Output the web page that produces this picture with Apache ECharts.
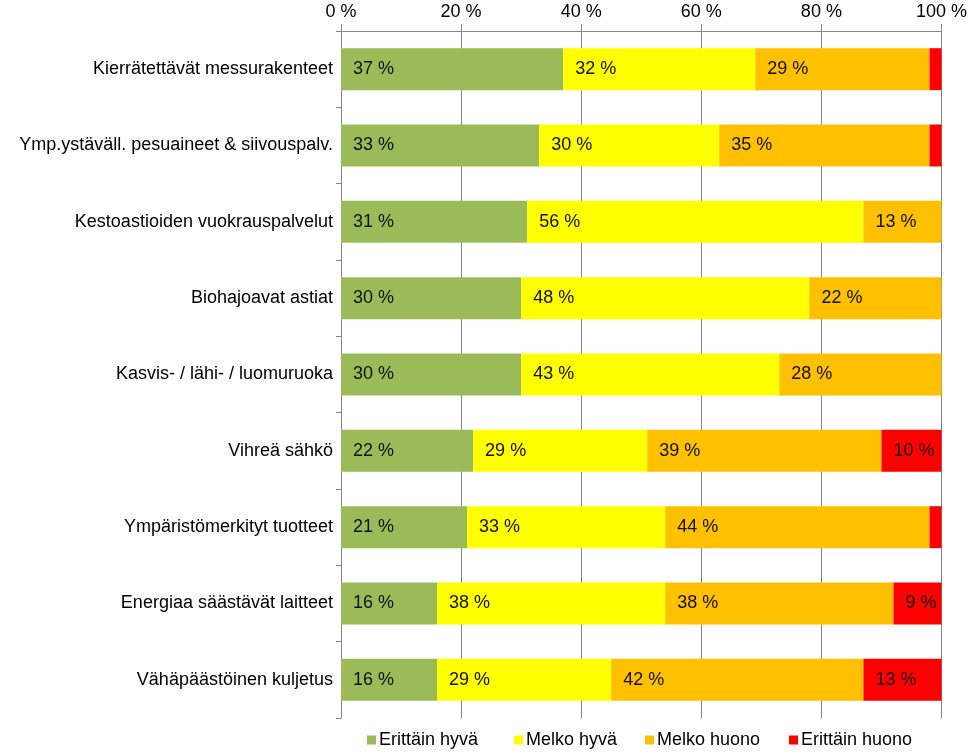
<!DOCTYPE html>
<html>
<head>
<meta charset="utf-8">
<script src="https://cdn.jsdelivr.net/npm/echarts@6/dist/echarts.min.js"></script>
<style>
html,body{margin:0;padding:0;background:#fff;}
#chart{width:970px;height:754px;}
</style>
</head>
<body>
<div id="chart"></div>
<script>
const categories = [
  "Kierrätettävät messurakenteet",
  "Ymp.ystäväll. pesuaineet & siivouspalv.",
  "Kestoastioiden vuokrauspalvelut",
  "Biohajoavat astiat",
  "Kasvis- / lähi- / luomuruoka",
  "Vihreä sähkö",
  "Ympäristömerkityt tuotteet",
  "Energiaa säästävät laitteet",
  "Vähäpäästöinen kuljetus"
];
const seriesNames = ["Erittäin hyvä", "Melko hyvä", "Melko huono", "Erittäin huono"];
const erittainHyva  = [37, 33, 31, 30, 30, 22, 21, 16, 16];
const melkoHyva     = [32, 30, 56, 48, 43, 29, 33, 38, 29];
const melkoHuono    = [29, 35, 13, 22, 28, 39, 44, 38, 42];
const erittainHuono = [2, 2, 0, 0, 0, 10, 2, 9, 13];
const xTicks = [0, 20, 40, 60, 80, 100];

const colors = ["#9BBB59", "#FFFF00", "#FFC000", "#FF0000"];
const seriesData = [erittainHyva, melkoHyva, melkoHuono, erittainHuono];
const FONT = "Liberation Sans, Arial, sans-serif";
const axisColor = "#868686";

const chart = echarts.init(document.getElementById('chart'), null, {renderer: 'canvas'});

const legendLefts = [367, 514, 645, 789];

const option = {
  animation: false,
  backgroundColor: '#fff',
  textStyle: {fontFamily: FONT},
  grid: {left: 341, right: 27, top: 31, bottom: 36, containLabel: false},
  legend: seriesNames.map((n, i) => ({
    data: [n],
    left: legendLefts[i],
    top: 731,
    icon: 'rect',
    itemWidth: 9,
    itemHeight: 9,
    itemGap: 0,
    padding: 0,
    textStyle: {fontFamily: FONT, fontSize: 18, color: '#000', padding: [0, 0, 0, -2]}
  })),
  xAxis: {
    type: 'value',
    position: 'top',
    min: xTicks[0],
    max: xTicks[xTicks.length - 1],
    interval: xTicks[1] - xTicks[0],
    axisLine: {show: true, lineStyle: {color: axisColor, width: 1}},
    axisTick: {show: true, length: 7, lineStyle: {color: axisColor}},
    splitLine: {show: true, lineStyle: {color: axisColor, width: 1}},
    axisLabel: {formatter: '{value} %', fontFamily: FONT, fontSize: 18, color: '#000', margin: 10}
  },
  yAxis: {
    type: 'category',
    inverse: true,
    data: categories,
    axisLine: {show: true, lineStyle: {color: axisColor, width: 1}},
    axisTick: {show: true, length: 5, lineStyle: {color: axisColor}},
    axisLabel: {fontFamily: FONT, fontSize: 18, color: '#000', margin: 8}
  },
  series: seriesNames.map((n, i) => ({
    name: n,
    type: 'bar',
    stack: 'total',
    barCategoryGap: '45%',
    data: seriesData[i],
    itemStyle: {color: colors[i]},
    label: {
      show: true,
      position: 'insideLeft',
      distance: 12,
      fontFamily: FONT,
      fontSize: 18,
      color: '#111',
      formatter: p => (p.value >= 5 ? p.value + ' %' : '')
    }
  }))
};
chart.setOption(option);
</script>
</body>
</html>
